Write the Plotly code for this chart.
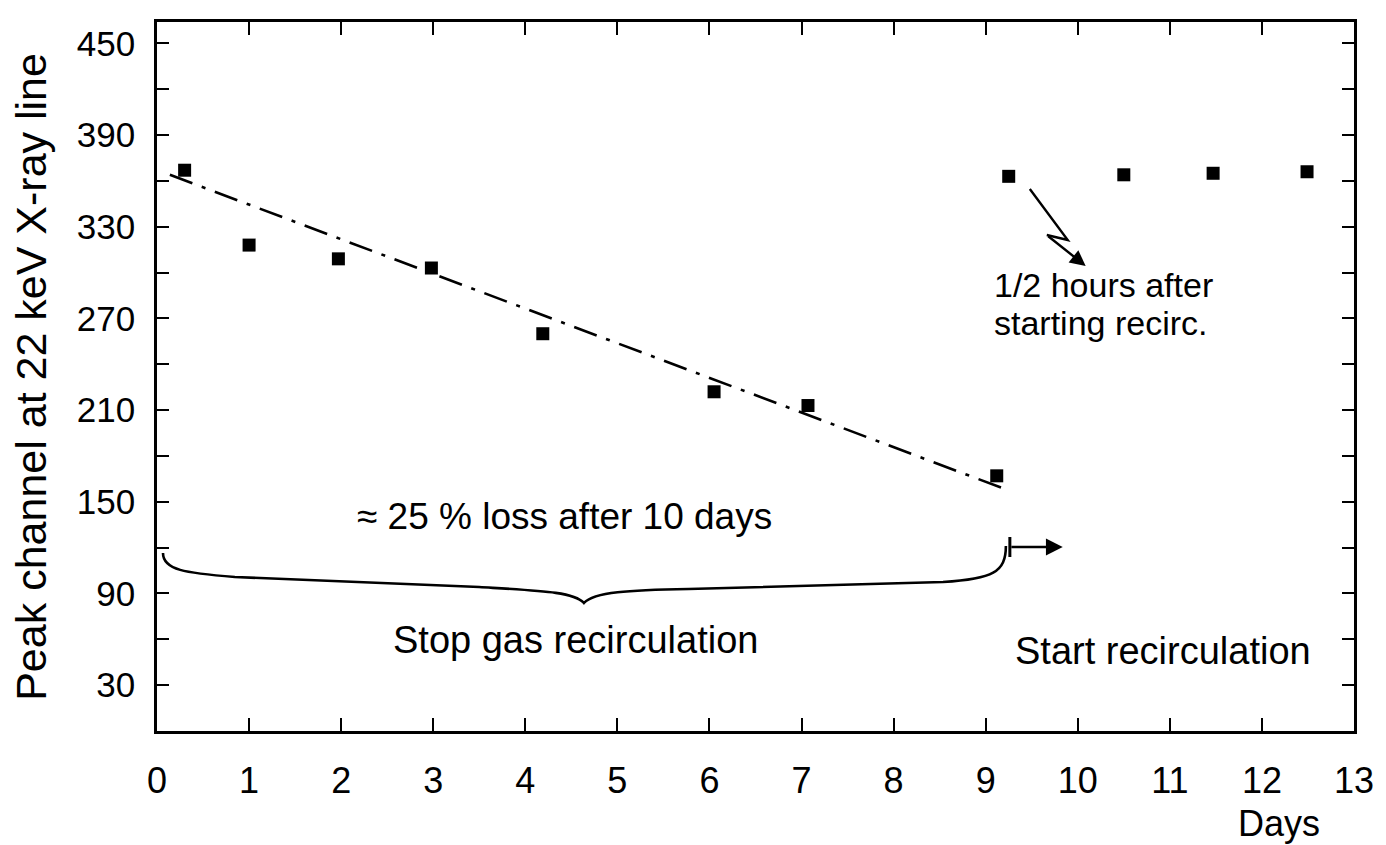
import plotly.graph_objects as go

# ---- data ----
days_stop = [0.30, 1.00, 1.97, 2.98, 4.19, 6.05, 7.07, 9.12]
peak_stop = [367, 318, 309, 303, 260, 222, 213, 167]
days_start = [9.25, 10.50, 11.47, 12.49]
peak_start = [363, 364, 365, 366]
fit_days = [0.14, 9.18]
fit_peak = [364, 159]

x_ticks = list(range(0, 14))
y_ticks = list(range(30, 451, 30))
y_labels = [str(v) if (v - 30) % 60 == 0 else "" for v in y_ticks]

# ---- frame geometry (pixels) ----
W, H = 1386, 845
L, R, T, B = 157, 1357, 22, 731
XMAX, YMAX = 13.0, 464.0


def X(px):
    return (px - L) / (R - L) * XMAX


def Y(py):
    return (B - py) / (B - T) * YMAX


FONT = "Liberation Sans, Arial, Helvetica, sans-serif"

fig = go.Figure()
fig.add_trace(go.Scatter(x=fit_days, y=fit_peak, mode="lines",
                         line=dict(color="black", width=2.6, dash="24px,10px,4px,10px"),
                         showlegend=False, hoverinfo="skip"))
fig.add_trace(go.Scatter(x=days_stop, y=peak_stop, mode="markers",
                         marker=dict(symbol="square", size=13, color="black"),
                         showlegend=False))
fig.add_trace(go.Scatter(x=days_start, y=peak_start, mode="markers",
                         marker=dict(symbol="square", size=13, color="black"),
                         showlegend=False))

# brace (pixel points converted into data coordinates)
def P(px, py):
    return f"{X(px):.4f},{Y(py):.4f}"

brace = (f"M {P(163,553)} C {P(163,570)} {P(185,573)} {P(235,577)} "
         f"L {P(480,587)} C {P(545,591)} {P(575,592)} {P(585,603)} "
         f"C {P(595,592)} {P(630,590)} {P(690,589)} "
         f"L {P(945,582)} C {P(995,579)} {P(1008,572)} {P(1008,546)}")
fig.add_shape(type="path", path=brace, xref="x", yref="y",
              line=dict(color="black", width=2.6))

# start bar |->
fig.add_shape(type="line", x0=X(1012), x1=X(1012), y0=Y(537), y1=Y(557),
              xref="x", yref="y", line=dict(color="black", width=3))
fig.add_annotation(x=X(1065), y=Y(547), ax=X(1012), ay=Y(547), axref="x", ayref="y",
                   xref="x", yref="y", text="", showarrow=True,
                   arrowhead=2, arrowsize=1.4, arrowwidth=2.4, arrowcolor="black")

# zig-zag arrow
zig = f"M {P(1032,189)} L {P(1070,240)} L {P(1049,235)}"
fig.add_shape(type="path", path=zig, xref="x", yref="y",
              line=dict(color="black", width=2.4))
fig.add_annotation(x=X(1088), y=Y(266), ax=X(1049), ay=Y(235), axref="x", ayref="y",
                   xref="x", yref="y", text="", showarrow=True,
                   arrowhead=2, arrowsize=1.3, arrowwidth=2.4, arrowcolor="black")

def txt(text, px, py, size, anchor="center"):
    fig.add_annotation(x=X(px), y=Y(py), xref="x", yref="y", text=text,
                       showarrow=False, xanchor=anchor, yanchor="middle",
                       font=dict(family=FONT, size=size, color="black"))

txt("\u2248 25 % loss after 10 days", 566, 516, 37)
txt("Stop gas recirculation", 577, 640, 38)
txt("Start recirculation", 1015, 651, 38, "left")
txt("1/2 hours after", 994, 285, 34, "left")
txt("starting recirc.", 994, 323, 34, "left")

# axis titles
fig.add_annotation(x=(30 - L) / (R - L), y=0.5, xref="paper", yref="paper",
                   text="Peak channel at 22 keV X-ray line", textangle=-90,
                   showarrow=False, xanchor="center", yanchor="middle",
                   font=dict(family=FONT, size=43, color="black"))
fig.add_annotation(x=(1282 - L) / (R - L), y=(B - 823) / (B - T), xref="paper", yref="paper",
                   text="Days", showarrow=False, xanchor="center", yanchor="middle",
                   font=dict(family=FONT, size=36, color="black"))

fig.update_xaxes(range=[0, XMAX], tickvals=x_ticks, ticktext=[str(v) for v in x_ticks],
                 ticks="inside", ticklen=13, tickwidth=2.4, tickcolor="black",
                 showline=True, linecolor="black", linewidth=2.6, mirror="ticks",
                 showgrid=False, zeroline=False,
                 tickfont=dict(family=FONT, size=36, color="black"),
                 ticklabelstandoff=16)
fig.update_yaxes(range=[0, YMAX], tickvals=y_ticks, ticktext=y_labels,
                 ticks="inside", ticklen=12, tickwidth=2.4, tickcolor="black",
                 showline=True, linecolor="black", linewidth=2.6, mirror="ticks",
                 showgrid=False, zeroline=False,
                 tickfont=dict(family=FONT, size=35, color="black"),
                 ticklabelstandoff=12)

fig.update_layout(width=W, height=H, margin=dict(l=L, r=W - R, t=T, b=H - B),
                  paper_bgcolor="white", plot_bgcolor="white", showlegend=False)

fig.write_html("out.html")
